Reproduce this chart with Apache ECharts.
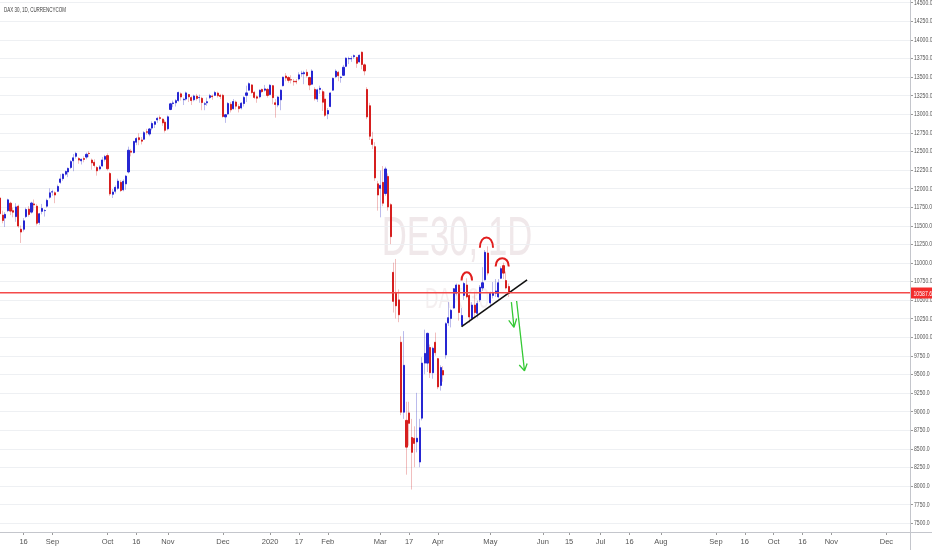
<!DOCTYPE html>
<html><head><meta charset="utf-8">
<script src="https://cdn.jsdelivr.net/npm/echarts@6/dist/echarts.min.js"></script>
<style>html,body{margin:0;padding:0;background:#fff}#c{width:932px;height:550px}</style>
</head><body><div id="c"></div>
<script>
const chartTitle = 'DAX 30, 1D, CURRENCYCOM';
const watermarkLines = ['DE30, 1D', 'DAX 30'];
const axisStart = '2019-08-05';
const axisEnd = '2020-12-14';
const holidays = ['2019-12-24','2019-12-25','2019-12-26','2019-12-31','2020-01-01','2020-04-10','2020-04-13','2020-05-01'];
const xTicks = [['2019-08-16','16'],['2019-09-02','Sep'],['2019-10-01','Oct'],['2019-10-16','16'],['2019-11-01','Nov'],['2019-12-02','Dec'],['2020-01-02','2020'],['2020-01-17','17'],['2020-02-03','Feb'],['2020-03-02','Mar'],['2020-03-17','17'],['2020-04-01','Apr'],['2020-05-04','May'],['2020-06-01','Jun'],['2020-06-15','15'],['2020-07-01','Jul'],['2020-07-16','16'],['2020-08-03','Aug'],['2020-09-01','Sep'],['2020-09-16','16'],['2020-10-01','Oct'],['2020-10-16','16'],['2020-11-02','Nov'],['2020-12-01','Dec']];
const yTicks = [7500,7750,8000,8250,8500,8750,9000,9250,9500,9750,10000,10250,10500,10750,11000,11250,11500,11750,12000,12250,12500,12750,13000,13250,13500,13750,14000,14250,14500];
const yMin = 7379, yMax = 14532;

// daily candles, each [open, close, low, high]
const aug2019 = [[11870,11658,11620,11880],[11640,11567,11530,11700],[11600,11650,11480,11680],[11700,11845,11680,11860],[11800,11694,11640,11820],[11700,11679,11610,11740],[11620,11750,11550,11800],[11760,11493,11470,11780],[11450,11412,11265,11500],[11450,11563,11420,11600],[11620,11715,11600,11740],[11720,11648,11620,11760],[11680,11802,11660,11820],[11790,11777,11700,11850],[11760,11530,11500,11790],[11540,11658,11510,11670],[11690,11730,11650,11790],[11700,11701,11620,11720],[11760,11838,11740,11860],[11880,11939,11860,12000]];
const sep2019 = [[11950,11953,11900,11980],[11940,11910,11800,11960],[11960,12025,11950,12050],[12080,12126,12060,12190],[12130,12191,12100,12200],[12190,12226,12170,12240],[12220,12268,12150,12280],[12280,12359,12260,12380],[12370,12410,12230,12460],[12430,12469,12400,12490],[12400,12380,12330,12420],[12370,12390,12320,12400],[12400,12389,12350,12430],[12420,12457,12390,12480],[12470,12468,12420,12500],[12380,12342,12250,12400],[12350,12307,12280,12390],[12280,12235,12170,12300],[12260,12288,12240,12310],[12300,12381,12290,12420],[12390,12428,12360,12450]];
const oct2019 = [[12440,12263,12240,12470],[12200,11925,11900,12220],[11920,11950,11870,11990],[11960,12013,11930,12040],[12000,12097,11980,12130],[12080,11970,11950,12110],[11980,12094,11960,12120],[12060,12164,11980,12180],[12220,12512,12200,12560],[12500,12486,12430,12530],[12480,12630,12470,12640],[12620,12670,12580,12690],[12680,12654,12580,12740],[12650,12634,12590,12690],[12660,12748,12650,12770],[12760,12754,12720,12800],[12730,12798,12700,12810],[12810,12872,12780,12900],[12860,12895,12810,12900],[12920,12941,12880,12960],[12950,12940,12910,12980],[12930,12880,12840,12940],[12890,12780,12750,12920]];
const nov2019 = [[12800,12961,12780,12980],[13060,13136,13050,13150],[13140,13148,13090,13180],[13150,13179,13100,13200],[13180,13289,13160,13300],[13270,13228,13180,13290],[13190,13198,13120,13220],[13200,13283,13180,13300],[13260,13230,13160,13270],[13220,13180,13120,13240],[13190,13242,13170,13260],[13240,13207,13180,13270],[13220,13221,13150,13260],[13210,13153,13050,13230],[13130,13137,13050,13160],[13150,13164,13110,13220],[13220,13246,13200,13270],[13240,13232,13190,13260],[13250,13287,13240,13310],[13280,13245,13220,13300],[13250,13236,13200,13270]];
const dec2019 = [[13250,12965,12950,13270],[12960,12989,12880,13000],[13000,13141,12990,13160],[13130,13055,13020,13160],[13070,13167,13060,13200],[13160,13105,13060,13180],[13100,13071,13020,13130],[13080,13145,13060,13160],[13140,13222,13100,13240],[13250,13283,13160,13380],[13320,13407,13310,13425],[13390,13288,13270,13400],[13290,13222,13200,13310],[13230,13212,13150,13250],[13230,13319,13210,13330],[13330,13300,13280,13340],[13320,13337,13300,13390],[13330,13249,13220,13350]];
const jan2020 = [[13260,13386,13250,13400],[13380,13219,13130,13390],[13150,13127,12950,13200],[13120,13227,13090,13240],[13190,13320,13050,13330],[13380,13495,13370,13500],[13510,13483,13440,13550],[13490,13452,13420,13510],[13460,13457,13410,13520],[13440,13432,13380,13470],[13440,13430,13400,13470],[13470,13526,13450,13560],[13540,13549,13500,13580],[13540,13555,13400,13580],[13560,13515,13490,13600],[13490,13389,13320,13500],[13400,13577,13390,13600],[13330,13205,13180,13360],[13200,13324,13160,13340],[13330,13345,13270,13380],[13300,13158,13040,13330],[13200,12982,12960,13300]];
const feb2020 = [[13000,13046,12930,13080],[13100,13282,13090,13290],[13320,13479,13310,13490],[13500,13575,13480,13600],[13560,13514,13440,13580],[13490,13494,13420,13510],[13520,13627,13510,13660],[13640,13750,13630,13760],[13740,13745,13670,13770],[13740,13745,13700,13780],[13770,13784,13740,13800],[13760,13681,13620,13770],[13700,13789,13690,13800],[13830,13665,13600,13840],[13660,13579,13520,13680],[13330,12960,12930,13360],[13110,12700,12650,13150],[12660,12590,12530,12760],[12560,12140,12100,12620],[12060,11910,11700,12100]];
const mar2020 = [[12000,12040,11610,12240],[12080,11800,11760,12300],[11930,12260,11900,12290],[12160,11750,11700,12200],[11780,11350,11250,11800],[10870,10480,10330,11000],[10600,10420,10250,11050],[10500,10300,10200,10640],[9930,8990,8950,10010],[8990,9620,8900,10080],[8880,8520,8150,9130],[8980,8840,8540,9130],[8650,8450,7950,8900],[8640,8570,8250,8800],[8590,8640,8450,9250],[8320,8780,8250,8900],[8910,9650,8880,9730],[9650,9780,9500,10100],[9650,10050,9530,10060],[9860,9520,9450,9900],[9520,9850,9440,9870],[9930,9790,9750,10060]];
const apr2020 = [[9710,9330,9300,9720],[9350,9590,9280,9620],[9550,9490,9400,9610],[9760,10180,9710,10200],[10190,10260,10150,10470],[10250,10360,10130,10380],[10390,10650,10380,10660],[10590,10700,10560,10720],[10700,10330,10220,10710],[10160,10290,10140,10390],[10560,10720,10500,10740],[10700,10540,10520,10790],[10560,10270,10190,10580],[10250,10430,10230,10470],[10430,10330,10250,10610],[10320,10450,10260,10490],[10500,10670,10470,10700],[10660,10730,10620,10940],[10770,11140,10760,11170],[11130,10860,10830,11220]];
const may2020 = [[10460,10590,10400,10610],[10560,10600,10520,10740],[10590,10620,10540,10780],[10540,10730,10520,10780],[10790,10920,10780,10950],[10960,10860,10780,11000],[10760,10660,10640,10880],[10680,10587.6,10540,10720]];

// drawings, in data units: [startDate, endDate, basePrice, topPrice]
const arcs = [['2020-04-16','2020-04-22',10760,10870],['2020-04-27','2020-05-05',11200,11340],['2020-05-06','2020-05-13',10950,11060]];
const trendline = [['2020-04-16',10140],['2020-05-22',10770]];
// arrows: start, tip, wing, wing
const arrows = [
  [['2020-05-14',10470],['2020-05-15',10130],['2020-05-13',10225],['2020-05-18',10250]],
  [['2020-05-18',10485],['2020-05-21',9545],['2020-05-19',9625],['2020-05-22',9645]]
];

const FONT = '"Liberation Sans",sans-serif';
const UP = '#2626d2', DOWN = '#d61f1f';
const AXIS = '#c4c6cc';
const PRICE_RED = '#f44a4a';
const GRID = {left: 0, right: 22, top: 0, bottom: 18};
const W = 932, H = 550;

const dates = [];
for (let d = new Date(axisStart + 'T00:00:00Z'); d <= new Date(axisEnd + 'T00:00:00Z'); d.setUTCDate(d.getUTCDate() + 1)) {
  const wd = d.getUTCDay();
  if (wd === 0 || wd === 6) continue;
  const s = d.toISOString().slice(0, 10);
  if (holidays.includes(s)) continue;
  dates.push(s);
}
const lastIdx = dates.length - 1;
const idx = s => dates.indexOf(s);
const tickMap = {}; xTicks.forEach(t => tickMap[t[0]] = t[1]);
const tickFn = (i, v) => tickMap[v] !== undefined;

const candles = [].concat(aug2019, sep2019, oct2019, nov2019, dec2019, jan2020, feb2020, mar2020, apr2020, may2020);
const wickData = candles.map(c => [c[0], c[1], c[2], c[3]]);
const bodyData = candles.map(c => [c[0], c[1], Math.min(c[0], c[1]), Math.max(c[0], c[1])]);
const lastClose = candles[candles.length - 1][1];

const chart = echarts.init(document.getElementById('c'), null, {renderer: 'canvas'});
const series = [
  // horizontal grid lines, ticks and condensed price labels on the right
  {
    type: 'custom', z: 1, silent: true, clip: false,
    data: yTicks.map(v => [lastIdx, v]),
    encode: {x: 0, y: 1},
    renderItem: (params, api) => {
      const pt = api.coord([api.value(0), api.value(1)]);
      const p0 = api.coord([0, api.value(1)]);
      const y = Math.round(pt[1]) + 0.5;
      return {type: 'group', children: [
        {type: 'line', shape: {x1: p0[0], y1: y, x2: pt[0], y2: y}, style: {stroke: '#eef0f3', lineWidth: 1}},
        {type: 'line', shape: {x1: pt[0], y1: y, x2: pt[0] + 3, y2: y}, style: {stroke: '#9a9a9a', lineWidth: 1}},
        {type: 'text', x: pt[0] + 4, y: pt[1], scaleX: 0.64,
          style: {text: api.value(1).toFixed(1), font: '8px ' + FONT, fill: '#555', align: 'left', verticalAlign: 'middle'}}
      ]};
    }
  },
  {
    type: 'candlestick', name: 'wick', data: wickData, barWidth: 1, z: 2, silent: true,
    itemStyle: {color: 'rgba(60,60,200,0.35)', color0: 'rgba(210,40,40,0.3)', borderColor: 'rgba(60,60,200,0.35)', borderColor0: 'rgba(210,40,40,0.3)', borderWidth: 1}
  },
  {
    type: 'candlestick', name: 'DE30', data: bodyData, barWidth: 1.6, z: 3, silent: true,
    itemStyle: {color: UP, color0: DOWN, borderColor: UP, borderColor0: DOWN, borderWidth: 1}
  },
  // last price line and tag
  {
    type: 'custom', z: 30, silent: true, clip: false,
    data: [[lastIdx, lastClose]],
    encode: {x: 0, y: 1},
    renderItem: (params, api) => {
      const pt = api.coord([api.value(0), api.value(1)]);
      const p0 = api.coord([0, api.value(1)]);
      const y = Math.round(pt[1]);
      return {type: 'group', children: [
        {type: 'rect', shape: {x: p0[0], y: y - 1, width: pt[0] - p0[0], height: 1.6}, style: {fill: PRICE_RED, stroke: null}},
        {type: 'rect', shape: {x: pt[0] + 1, y: y - 5.5, width: W - pt[0] - 1, height: 11}, style: {fill: '#f22c2c', stroke: null}},
        {type: 'text', x: pt[0] + 3.5, y: y + 0.5, scaleX: 0.64,
          style: {text: api.value(1).toFixed(1), font: '8px ' + FONT, fill: '#fff', align: 'left', verticalAlign: 'middle'}}
      ]};
    }
  },
  {
    type: 'custom', z: 10, silent: true,
    data: arcs.map(a => [idx(a[0]), idx(a[1]), a[2], a[3]]),
    encode: {x: [0, 1], y: [2, 3]},
    renderItem: (params, api) => {
      const p0 = api.coord([api.value(0), api.value(2)]);
      const p1 = api.coord([api.value(1), api.value(2)]);
      const pt = api.coord([api.value(0), api.value(3)]);
      const h = (p0[1] - pt[1]) * 4 / 3;
      return {type: 'bezierCurve', shape: {x1: p0[0], y1: p0[1], x2: p1[0], y2: p1[1], cpx1: p0[0], cpy1: p0[1] - h, cpx2: p1[0], cpy2: p1[1] - h},
        style: {stroke: '#e11d1d', lineWidth: 2, fill: 'none'}};
    }
  },
  {
    type: 'line', z: 10, silent: true, symbol: 'none',
    data: trendline.map(p => [idx(p[0]), p[1]]),
    lineStyle: {color: '#111', width: 1.6}
  }
].concat(arrows.map(a => ({
  type: 'line', z: 10, silent: true, symbol: 'none',
  data: [a[0], a[1], a[2], a[1], a[3]].map(p => [idx(p[0]), p[1]]),
  lineStyle: {color: '#35c935', width: 1.3}
})));

const gx = W - GRID.right + 0.5, gy = H - GRID.bottom + 0.5;
chart.setOption({
  animation: false,
  backgroundColor: '#fff',
  grid: Object.assign({containLabel: false}, GRID),
  graphic: {elements: [
    {id: 'title', type: 'text', x: 4, y: 10, z: 100, scaleX: 0.56, silent: true,
      style: {text: chartTitle, font: '8px ' + FONT, fill: '#3c3c3c', align: 'left', verticalAlign: 'middle'}},
    {id: 'wm1', type: 'text', x: 457, y: 240, z: 0, scaleX: 0.62, silent: true,
      style: {text: watermarkLines[0], font: '56px ' + FONT, fill: 'rgba(205,180,186,0.3)', align: 'center', verticalAlign: 'middle'}},
    {id: 'wm2', type: 'text', x: 457, y: 300, z: 0, scaleX: 0.62, silent: true,
      style: {text: watermarkLines[1], font: '30px ' + FONT, fill: 'rgba(205,180,186,0.22)', align: 'center', verticalAlign: 'middle'}},
    {id: 'xline', type: 'line', z: 50, silent: true, shape: {x1: 0, y1: gy, x2: W, y2: gy}, style: {stroke: AXIS, lineWidth: 1}},
    {id: 'yline', type: 'line', z: 50, silent: true, shape: {x1: gx, y1: 0, x2: gx, y2: H}, style: {stroke: AXIS, lineWidth: 1}}
  ]},
  xAxis: {
    type: 'category', data: dates, boundaryGap: false,
    axisLine: {show: false, onZero: false},
    axisTick: {interval: tickFn, length: 3, lineStyle: {color: '#9a9a9a'}},
    axisLabel: {interval: tickFn, formatter: v => tickMap[v] || '', fontSize: 7.5, color: '#555', margin: 6, fontFamily: FONT},
    splitLine: {show: false}
  },
  yAxis: {
    type: 'value', position: 'right', min: yMin, max: yMax,
    axisLine: {show: false, onZero: false},
    axisTick: {show: false},
    axisLabel: {show: false},
    splitLine: {show: false}
  },
  series: series
});
</script>
</body></html>
